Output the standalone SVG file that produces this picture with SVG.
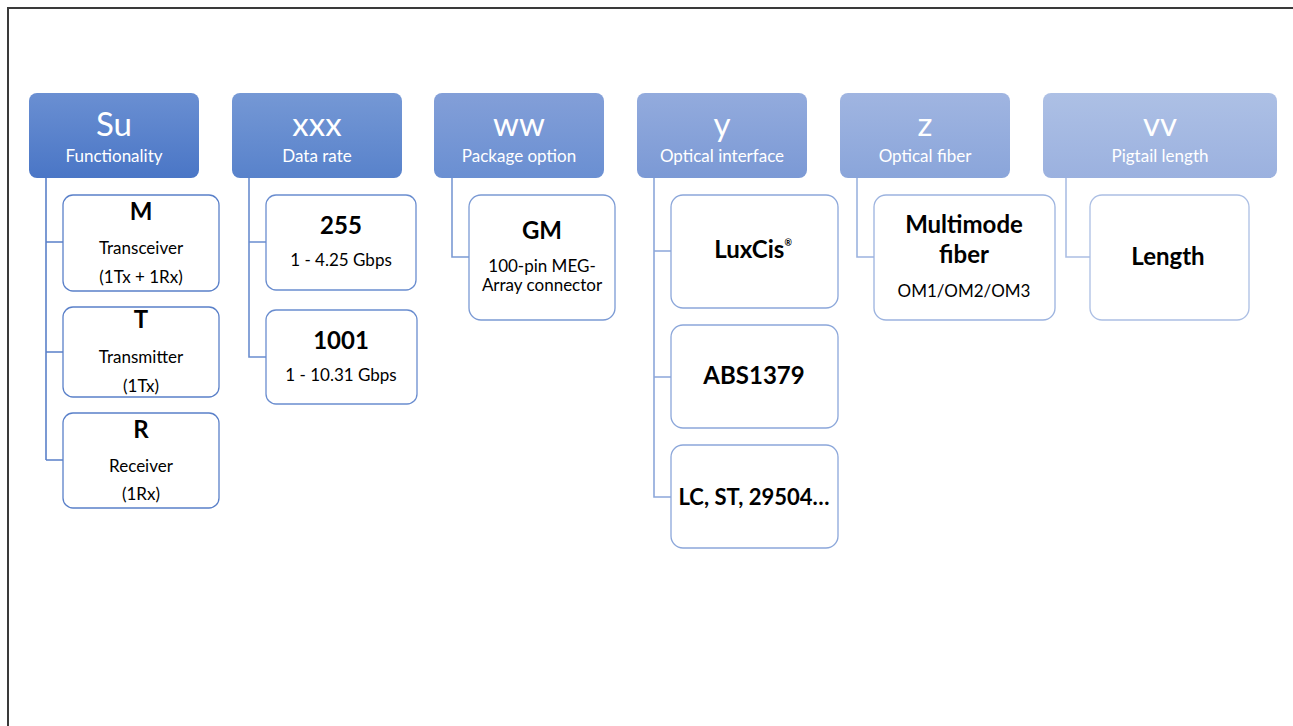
<svg xmlns="http://www.w3.org/2000/svg" width="1293" height="726" viewBox="0 0 1293 726">
<defs>
<linearGradient id="g1" x1="0" y1="0" x2="0" y2="1"><stop offset="0" stop-color="#6a8fd2"/><stop offset="1" stop-color="#4a76c6"/></linearGradient>
<linearGradient id="g2" x1="0" y1="0" x2="0" y2="1"><stop offset="0" stop-color="#7598d5"/><stop offset="1" stop-color="#5882cb"/></linearGradient>
<linearGradient id="g3" x1="0" y1="0" x2="0" y2="1"><stop offset="0" stop-color="#839fd8"/><stop offset="1" stop-color="#6a8fd2"/></linearGradient>
<linearGradient id="g4" x1="0" y1="0" x2="0" y2="1"><stop offset="0" stop-color="#93abdd"/><stop offset="1" stop-color="#7b99d5"/></linearGradient>
<linearGradient id="g5" x1="0" y1="0" x2="0" y2="1"><stop offset="0" stop-color="#a0b5e1"/><stop offset="1" stop-color="#8aa5da"/></linearGradient>
<linearGradient id="g6" x1="0" y1="0" x2="0" y2="1"><stop offset="0" stop-color="#adc0e5"/><stop offset="1" stop-color="#9bb1df"/></linearGradient>
</defs>
<style>
text{font-family:Lato,"Liberation Sans",sans-serif;text-anchor:middle}
.hb{font-size:33px;fill:#fff}
.hs{font-size:17px;fill:#fff}
.ct{font-size:24px;font-weight:bold;fill:#000}
.cs{font-size:17px;fill:#000}
.box{fill:#fff;stroke-width:1.3}
.con{fill:none;stroke-width:1.6}
</style>
<rect x="8" y="8" width="1300" height="730" fill="#fff" stroke="#3a3a3a" stroke-width="2"/>
<g id="connectors">
<path class="con" stroke="#5a80c9" d="M46 178V460M46 242H63M46 352H63M46 460H63"/>
<path class="con" stroke="#6a8dcf" d="M249 178V357H266M249 242H266"/>
<path class="con" stroke="#7b9ad4" d="M452 178V257H469"/>
<path class="con" stroke="#8ca7da" d="M654 178V497H671M654 251H671M654 377H671"/>
<path class="con" stroke="#9cb3df" d="M857 178V257H874"/>
<path class="con" stroke="#acbfe4" d="M1066 178V257H1090"/>
</g>
<g id="h-su"><rect x="29" y="93" width="170" height="85" rx="8" fill="url(#g1)"/><text class="hb" x="114" y="136">Su</text><text class="hs" x="114" y="162">Functionality</text></g>
<g id="h-xxx"><rect x="232" y="93" width="170" height="85" rx="8" fill="url(#g2)"/><text class="hb" x="317" y="136">xxx</text><text class="hs" x="317" y="162">Data rate</text></g>
<g id="h-ww"><rect x="434" y="93" width="170" height="85" rx="8" fill="url(#g3)"/><text class="hb" x="519" y="136">ww</text><text class="hs" x="519" y="162">Package option</text></g>
<g id="h-y"><rect x="637" y="93" width="170" height="85" rx="8" fill="url(#g4)"/><text class="hb" x="722" y="136">y</text><text class="hs" x="722" y="162">Optical interface</text></g>
<g id="h-z"><rect x="840" y="93" width="170" height="85" rx="8" fill="url(#g5)"/><text class="hb" x="925" y="136">z</text><text class="hs" x="925" y="162">Optical fiber</text></g>
<g id="h-vv"><rect x="1043" y="93" width="234" height="85" rx="8" fill="url(#g6)"/><text class="hb" x="1160" y="136">vv</text><text class="hs" x="1160" y="162">Pigtail length</text></g>
<g id="c-m"><rect class="box" stroke="#5a80c9" x="63" y="195" width="156" height="96" rx="10"/><text class="ct" x="141" y="220">M</text><text class="cs" x="141" y="254">Transceiver</text><text class="cs" x="141" y="283">(1Tx + 1Rx)</text></g>
<g id="c-t"><rect class="box" stroke="#5a80c9" x="63" y="307" width="156" height="90" rx="10"/><text class="ct" x="141" y="328">T</text><text class="cs" x="141" y="363">Transmitter</text><text class="cs" x="141" y="392">(1Tx)</text></g>
<g id="c-r"><rect class="box" stroke="#5a80c9" x="63" y="413" width="156" height="95" rx="10"/><text class="ct" x="141" y="438">R</text><text class="cs" x="141" y="472">Receiver</text><text class="cs" x="141" y="500">(1Rx)</text></g>
<g id="c-255"><rect class="box" stroke="#6a8dcf" x="266" y="195" width="150" height="95" rx="10"/><text class="ct" x="341" y="234">255</text><text class="cs" x="341" y="266">1 - 4.25 Gbps</text></g>
<g id="c-1001"><rect class="box" stroke="#6a8dcf" x="266" y="310" width="151" height="94" rx="10"/><text class="ct" x="341" y="349">1001</text><text class="cs" x="341" y="381">1 - 10.31 Gbps</text></g>
<g id="c-gm"><rect class="box" stroke="#7b9ad4" x="469" y="195" width="146" height="125" rx="12"/><text class="ct" x="542" y="239">GM</text><text class="cs" x="542" y="272">100-pin MEG-</text><text class="cs" x="542" y="291">Array connector</text></g>
<g id="c-luxcis"><rect class="box" stroke="#8ca7da" x="671" y="195" width="167" height="113" rx="12"/><text class="ct" x="753" y="258">LuxCis<tspan dy="-12" style="font-size:9px">®</tspan></text></g>
<g id="c-abs"><rect class="box" stroke="#8ca7da" x="671" y="325" width="167" height="103" rx="12"/><text class="ct" x="754" y="384">ABS1379</text></g>
<g id="c-lc"><rect class="box" stroke="#8ca7da" x="671" y="445" width="167" height="103" rx="12"/><text class="ct" x="754" y="505" style="font-size:22px">LC, ST, 29504…</text></g>
<g id="c-mm"><rect class="box" stroke="#9cb3df" x="874" y="195" width="181" height="125" rx="12"/><text class="ct" x="964" y="233">Multimode</text><text class="ct" x="964" y="263">fiber</text><text class="cs" x="964" y="297">OM1/OM2/OM3</text></g>
<g id="c-len"><rect class="box" stroke="#acbfe4" x="1090" y="195" width="159" height="125" rx="12"/><text class="ct" x="1168" y="265">Length</text></g>
</svg>
